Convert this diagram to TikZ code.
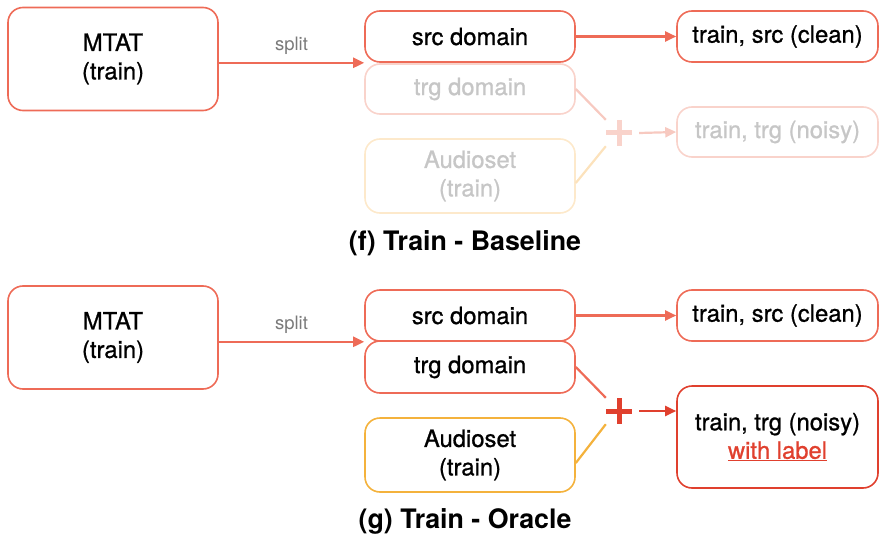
\documentclass[tikz,border=0pt]{standalone}
\usepackage{fontspec}
\setmainfont{TeX Gyre Heros}
\newfontfamily\boxfont[FakeBold=0.9]{TeX Gyre Heros}
\usetikzlibrary{arrows.meta}

\definecolor{salmon}{RGB}{238,107,87}
\definecolor{palepink}{RGB}{249,211,203}
\definecolor{palepinkline}{RGB}{247,201,192}
\definecolor{paleorange}{RGB}{253,233,203}
\definecolor{paleorangeline}{RGB}{252,226,188}
\definecolor{amber}{RGB}{244,178,60}
\definecolor{deepred}{RGB}{224,64,46}
\definecolor{fadedtext}{RGB}{198,198,198}
\definecolor{splitgray}{RGB}{122,122,122}

\tikzset{
  box/.style={draw=salmon, line width=1.6pt, rounded corners=15pt,
    minimum width=210pt, inner sep=0pt, align=center,
    font=\boxfont\fontsize{23.8}{28.5}\selectfont},
  outbox/.style={box, minimum width=201pt},
  faded/.style={draw=palepink, text=fadedtext},
  fadedorange/.style={draw=paleorange, text=fadedtext},
  conn/.style={line width=2.2pt, -{Triangle[length=11pt,width=10pt]}},
  linkline/.style={line width=2.2pt},
  plusnode/.style={minimum size=26pt, inner sep=0pt,
    path picture={\draw[line width=5pt, #1]
      (path picture bounding box.west) -- (path picture bounding box.east)
      (path picture bounding box.north) -- (path picture bounding box.south);}},
  title/.style={font=\fontsize{26.8}{30}\selectfont\bfseries},
  splitlabel/.style={font=\fontsize{18.5}{20}\selectfont, text=splitgray}
}

\begin{document}
\begin{tikzpicture}[x=1pt,y=-1pt]
\useasboundingbox (0,0) rectangle (880,540);

% ---- (f) Train - Baseline ----
\node[box, minimum height=103pt] (mtat) at (113,59) {MTAT\\(train)};
\node[box, minimum height=51pt] (src) at (470,36.5) {src domain};
\node[box, faded, minimum height=50pt] (trg) at (470,89) {trg domain};
\node[box, fadedorange, minimum height=74pt] (aud) at (470,176) {Audioset\\(train)};
\node[outbox, minimum height=51pt] (clean) at (777.5,36.5) {train, src (clean)};
\node[outbox, faded, minimum height=50pt] (noisy) at (777.5,132) {train, trg (noisy)};
\node[plusnode=palepink] (plus) at (619,133) {};

\draw[conn, salmon] (mtat.east |- src.south west) -- node[splitlabel, above=4pt] (splitf) {split} (src.south west);
\draw[conn, salmon] (src.east) -- (clean.west);
\draw[linkline, palepinkline] (trg.east) -- (plus.north west);
\draw[linkline, paleorangeline] ([yshift=-7pt]aud.east) -- (plus.south west);
\draw[conn, palepinkline] ([xshift=7pt]plus.east) -- (noisy.west);

\node[title] (titlef) at (465,243) {(f) Train - Baseline};

% ---- (g) Train - Oracle ----
\node[box, minimum height=103pt] (mtat2) at (113,337.5) {MTAT\\(train)};
\node[box, minimum height=51pt] (src2) at (470,315.5) {src domain};
\node[box, minimum height=52pt] (trg2) at (470,367) {trg domain};
\node[box, draw=amber, minimum height=74pt] (aud2) at (470,455) {Audioset\\(train)};
\node[outbox, minimum height=51pt] (clean2) at (777.5,315.5) {train, src (clean)};
\node[outbox, draw=deepred, minimum height=102pt] (noisy2) at (777.5,437)
  {train, trg (noisy)\\\textcolor{deepred}{\underline{with label}}};
\node[plusnode=deepred] (plus2) at (619,411) {};

\draw[conn, salmon] (mtat2.east |- src2.south west) -- node[splitlabel, above=4pt] (splitg) {split} (src2.south west);
\draw[conn, salmon] (src2.east) -- (clean2.west);
\draw[linkline, salmon] (trg2.east) -- (plus2.north west);
\draw[linkline, amber] ([yshift=-8pt]aud2.east) -- (plus2.south west);
\draw[conn, deepred] ([xshift=7pt]plus2.east) -- (noisy2.west |- plus2.east);

\node[title] (titleg) at (465,521) {(g) Train - Oracle};
\end{tikzpicture}
\end{document}
